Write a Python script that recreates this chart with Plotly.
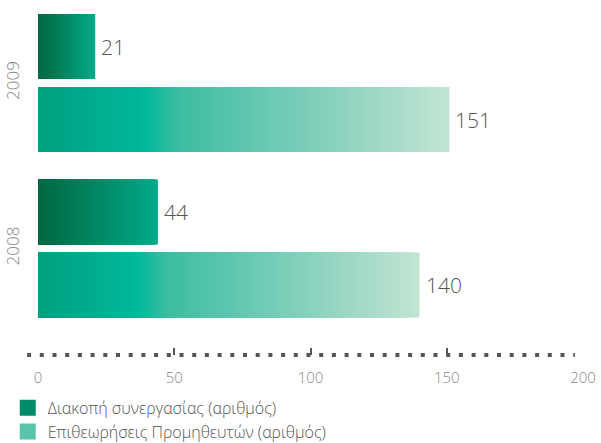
import plotly.graph_objects as go

# ---- data ----
years = ["2008", "2009"]
series_names = ["Διακοπή συνεργασίας (αριθμός)", "Επιθεωρήσεις Προμηθευτών (αριθμός)"]
termination = [44, 21]        # Διακοπή συνεργασίας
inspections = [140, 151]      # Επιθεωρήσεις Προμηθευτών
x_ticks = [0, 50, 100, 150, 200]

# ---- style ----
dark_stops = [(0.0, (0, 104, 64)), (1.0, (0, 170, 138))]
light_stops = [(0.0, (0, 160, 128)), (0.26, (0, 184, 154)), (0.34, (60, 189, 161)),
               (0.83, (160, 216, 198)), (1.0, (194, 230, 212))]
N = 80
FONT = "Open Sans"


def grad(stops, f):
    for (f0, c0), (f1, c1) in zip(stops[:-1], stops[1:]):
        if f0 <= f <= f1:
            t = (f - f0) / (f1 - f0) if f1 > f0 else 0
            c = [round(a + (b - a) * t) for a, b in zip(c0, c1)]
            return "rgb(%d,%d,%d)" % tuple(c)
    return "rgb(%d,%d,%d)" % stops[-1][1]


fig = go.Figure()


def add_series(vals, stops, group):
    # overlaid bars from 0, longest first, each shorter one painted on top -> smooth gradient
    for k in range(N, 0, -1):
        f = (k - 0.5) / N
        fig.add_trace(go.Bar(
            y=years, x=[v * k / N for v in vals],
            orientation="h", offsetgroup=group,
            marker=dict(color=grad(stops, f), line=dict(width=0)),
            showlegend=False, hoverinfo="skip",
        ))


# light (inspections) first so it is placed below within each group
add_series(inspections, light_stops, "b")
add_series(termination, dark_stops, "a")

# legend entries
fig.add_trace(go.Scatter(x=[None], y=[None], mode="markers", name=series_names[0],
                         marker=dict(symbol="square", size=16, color="rgb(0,140,104)"),
                         legendrank=1, legendgroup="g1"))
fig.add_trace(go.Scatter(x=[None], y=[None], mode="markers", name=series_names[1],
                         marker=dict(symbol="square", size=16, color="rgb(90,196,168)"),
                         legendrank=2, legendgroup="g2"))

# value labels
for vals, shift in ((termination, 36.5), (inspections, -36.5)):
    for i, v in enumerate(vals):
        fig.add_annotation(x=v, y=i, xref="x", yref="y", text=str(v), showarrow=False,
                           xanchor="left", yanchor="middle", xshift=4, yshift=shift,
                           font=dict(family=FONT, size=21, color="#555555", weight=300))

# dotted axis line
fig.add_shape(type="line", xref="paper", yref="paper", x0=-0.02, x1=0.985, y0=0, y1=0,
              line=dict(color="#555555", width=4, dash="4px,8.7px"), layer="below")

fig.update_layout(
    width=601, height=443,
    margin=dict(l=38, r=18, t=0, b=88, autoexpand=False),
    paper_bgcolor="white", plot_bgcolor="white",
    barmode="group", bargap=0.118, bargroupgap=0.11,
    font=dict(family=FONT, color="#555555"),
    xaxis=dict(range=[0, 200], tickvals=x_ticks, showgrid=False, zeroline=False,
               showline=False, ticks="inside", ticklen=7, tickwidth=2, tickcolor="#555555",
               tickfont=dict(family=FONT, size=15, color="#888888", weight=300),
               ticklabelstandoff=12, automargin=False),
    yaxis=dict(type="category", categoryorder="array", categoryarray=years,
               range=[-0.643, 1.5015], showgrid=False, zeroline=False, showline=False,
               tickangle=-90, ticks="", ticklabelstandoff=15, automargin=False,
               tickfont=dict(family=FONT, size=17, color="#888888", weight=300)),
    legend=dict(x=-0.0555, y=-0.101, xanchor="left", yanchor="top",
                font=dict(family=FONT, size=16, color="#555555", weight=300),
                tracegroupgap=0, itemsizing="trace", bgcolor="rgba(0,0,0,0)"),
    showlegend=True,
)

fig.write_html("out.html", config={"displayModeBar": False},
               post_script="document.body.style.margin='0px';document.body.style.overflow='hidden';")
